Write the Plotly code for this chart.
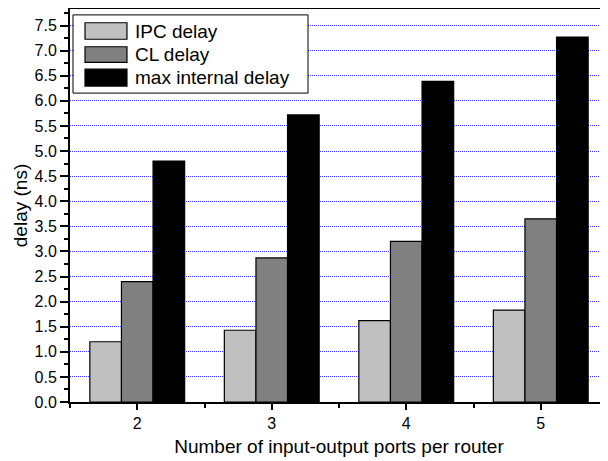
import plotly.graph_objects as go

ports = [2, 3, 4, 5]
ipc_delay = [1.20, 1.43, 1.62, 1.83]
cl_delay = [2.40, 2.87, 3.20, 3.65]
max_internal_delay = [4.80, 5.72, 6.39, 7.27]

names = ["IPC delay", "CL delay", "max internal delay"]
values = [ipc_delay, cl_delay, max_internal_delay]
colors = ["#c0c0c0", "#808080", "#000000"]

font_family = "Liberation Sans, Arial, sans-serif"

fig = go.Figure()
for name, vals, col in zip(names, values, colors):
    fig.add_trace(go.Bar(
        x=ports, y=vals, name=name, showlegend=False,
        marker=dict(color=col, line=dict(color="#000000", width=1.2)),
    ))

# custom legend with wide swatches (paper coordinates)
fig.add_shape(type="rect", xref="paper", yref="paper",
              x0=0.0056, x1=0.4424, y0=0.786, y1=0.985,
              line=dict(color="#000000", width=1), fillcolor="white", layer="above")
sw_rows = [(0.923, 0.965), (0.864, 0.904), (0.804, 0.847)]
for (y0, y1), name, col in zip(sw_rows, names, colors):
    fig.add_shape(type="rect", xref="paper", yref="paper",
                  x0=0.0279, x1=0.1059, y0=y0, y1=y1,
                  line=dict(color="#000000", width=1.2), fillcolor=col, layer="above")
    fig.add_annotation(xref="paper", yref="paper", x=0.117, y=(y0 + y1) / 2,
                       text=name, showarrow=False, xanchor="left", yanchor="middle",
                       font=dict(size=19, family=font_family, color="#000000"))

fig.update_layout(
    width=600, height=453,
    margin=dict(l=62, r=0, t=1, b=59),
    paper_bgcolor="white", plot_bgcolor="white",
    barmode="group", bargap=0.295, bargroupgap=0,
    font=dict(family=font_family, size=16, color="#000000"),
    showlegend=False,
    xaxis=dict(
        range=[1.5, 5.5],
        tickvals=ports, ticktext=[str(p) for p in ports],
        ticks="outside", ticklen=6, tickwidth=1.5, tickcolor="#000000",
        minor=dict(dtick=0.5, tick0=1.5, ticks="outside", ticklen=4, tickcolor="#000000", tickwidth=1.5),
        showline=True, linecolor="#000000", linewidth=2, mirror=True,
        showgrid=False, zeroline=False,
        title=dict(text="Number of input-output ports per router", font=dict(size=19), standoff=8),
        tickfont=dict(size=16),
    ),
    yaxis=dict(
        range=[0, 7.83],
        dtick=0.5, tick0=0, tickformat=".1f",
        ticks="outside", ticklen=8, tickwidth=1.5, tickcolor="#000000",
        minor=dict(dtick=0.25, ticks="outside", ticklen=4, tickcolor="#000000", tickwidth=1.5, showgrid=False),
        showline=True, linecolor="#000000", linewidth=2, mirror=False,
        showgrid=True, gridcolor="#3b3bff", gridwidth=1, griddash="1px,1px",
        zeroline=False,
        title=dict(text="delay (ns)", font=dict(size=19), standoff=2),
        tickfont=dict(size=16),
    ),
)

fig.write_html("out.html")
